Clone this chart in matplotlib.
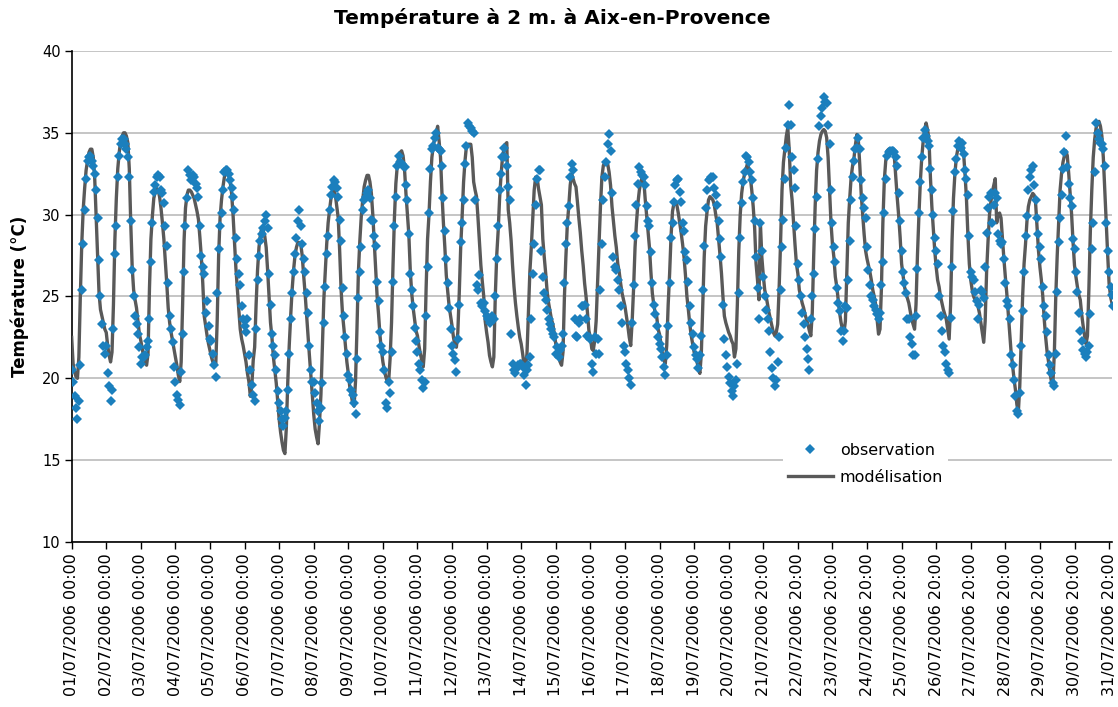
import numpy as np
import matplotlib
matplotlib.use("Agg")
import matplotlib.pyplot as plt

title = "Température à 2 m. à Aix-en-Provence"
y_label = "Température (°C)"
legend_obs = "observation"
legend_mod = "modélisation"

# tick labels (one every 24 hourly records)
x_labels = ([f"{d:02d}/07/2006 00:00" for d in range(1, 21)] +
            [f"{d:02d}/07/2006 20:00" for d in range(21, 32)])

# hourly observed temperature (°C), one row per day
obs_temp = [
    20.5, 19.8, 18.9, 18.2, 17.5, 18.6, 20.8, 25.4, 28.2, 30.3, 32.2, 33.3, 33.5, 33.6, 33.3, 33.0, 32.5, 31.5, 29.8, 27.2, 25.0, 23.3, 22.0, 21.5,
    22.0, 20.3, 19.5, 18.6, 19.3, 23.0, 27.6, 29.3, 32.3, 33.6, 34.3, 34.6, 34.6, 34.3, 34.0, 33.5, 32.3, 29.6, 26.6, 25.0, 23.8, 23.3, 22.7, 21.9,
    20.9, 21.3, 21.3, 21.4, 21.9, 22.3, 23.6, 27.1, 29.5, 31.4, 31.8, 32.3, 32.4, 32.3, 31.5, 31.3, 30.7, 29.3, 28.1, 25.8, 23.8, 23.0, 22.2, 20.7,
    19.8, 19.0, 18.7, 18.4, 20.4, 22.7, 26.5, 29.3, 31.0, 32.7, 32.4, 32.1, 32.4, 32.3, 31.9, 31.6, 31.1, 29.3, 27.5, 26.8, 26.4, 24.0, 24.7, 23.2,
    22.4, 22.3, 21.5, 20.8, 20.1, 25.2, 27.9, 29.3, 30.1, 31.5, 32.6, 32.7, 32.7, 32.5, 32.1, 31.6, 31.1, 30.3, 28.6, 27.3, 26.4, 25.7, 24.4, 23.6,
    23.2, 22.8, 23.6, 21.4, 20.5, 19.6, 19.0, 18.6, 23.0, 26.0, 27.5, 28.4, 28.8, 29.2, 29.6, 30.0, 29.2, 26.4, 24.5, 22.7, 22.0, 21.4, 20.5, 19.2,
    18.5, 18.0, 17.5, 17.1, 17.6, 18.0, 19.3, 21.5, 23.6, 25.2, 26.5, 27.6, 28.6, 29.6, 30.3, 29.3, 28.2, 27.3, 26.5, 25.2, 24.0, 22.0, 20.5, 19.8,
    19.8, 19.1, 18.5, 18.0, 17.4, 18.2, 19.7, 23.4, 25.6, 27.6, 28.7, 30.3, 31.2, 31.7, 32.1, 32.0, 31.6, 31.1, 29.7, 28.4, 25.5, 23.8, 22.5, 21.5,
    20.2, 19.9, 19.3, 19.0, 18.5, 17.8, 21.2, 24.9, 26.5, 28.0, 30.3, 30.9, 31.1, 31.3, 31.5, 31.0, 29.7, 29.6, 28.7, 28.1, 25.9, 24.7, 22.8, 22.0,
    21.6, 20.5, 18.5, 18.2, 19.8, 19.1, 21.6, 25.9, 29.3, 31.1, 33.0, 33.6, 33.2, 33.1, 33.0, 32.9, 31.8, 30.9, 28.8, 26.4, 25.4, 24.4, 23.1, 22.3,
    21.6, 20.9, 20.5, 19.9, 19.4, 19.8, 23.8, 26.8, 30.1, 32.8, 34.0, 34.2, 34.7, 35.0, 34.1, 34.0, 33.9, 33.0, 31.0, 29.0, 27.3, 25.8, 24.3, 23.0,
    22.0, 21.5, 21.1, 20.4, 22.4, 24.5, 28.3, 29.5, 30.9, 33.1, 34.2, 35.6, 35.4, 35.3, 35.1, 35.0, 30.9, 25.7, 25.4, 26.3, 24.6, 24.4, 24.6, 24.1,
    23.8, 23.6, 23.4, 23.6, 23.8, 23.6, 25.0, 27.3, 29.3, 31.5, 32.5, 33.5, 34.1, 33.5, 33.0, 31.7, 30.9, 22.7, 20.9, 20.5, 20.3, 20.6, 20.8, 20.9,
    20.9, 20.7, 20.2, 19.6, 20.5, 20.8, 21.3, 23.6, 26.4, 28.2, 30.6, 32.2, 32.7, 32.7, 27.8, 26.2, 25.2, 24.8, 24.2, 23.6, 23.3, 23.0, 22.7, 22.5,
    21.5, 21.9, 21.3, 21.7, 22.0, 22.7, 25.8, 28.2, 29.5, 30.5, 32.3, 33.1, 32.7, 23.6, 22.6, 22.5, 23.4, 23.6, 24.4, 24.4, 24.5, 23.6, 22.6, 22.5,
    22.4, 20.9, 20.4, 22.5, 21.5, 22.4, 21.5, 25.4, 28.2, 30.9, 32.3, 33.2, 34.3, 34.9, 33.9, 31.3, 27.4, 26.8, 26.6, 26.0, 25.4, 24.4, 23.4, 22.0,
    21.6, 20.9, 20.5, 20.0, 19.6, 23.4, 25.7, 28.7, 30.6, 31.9, 32.9, 32.6, 32.4, 32.3, 31.8, 30.5, 29.6, 29.3, 27.7, 25.8, 24.5, 23.9, 23.2, 22.5,
    22.1, 21.8, 21.3, 20.7, 20.2, 21.4, 23.2, 25.8, 28.6, 29.5, 30.8, 31.8, 32.1, 32.2, 31.4, 30.8, 29.5, 29.0, 27.7, 27.2, 25.9, 24.4, 23.4, 22.7,
    21.9, 21.4, 21.2, 20.6, 21.4, 22.6, 25.4, 28.1, 30.4, 31.5, 32.1, 32.2, 32.3, 32.3, 31.6, 31.2, 30.6, 29.6, 28.5, 27.4, 24.5, 22.4, 21.4, 20.7,
    20.1, 19.7, 19.2, 18.9, 19.5, 19.9, 20.9, 25.2, 28.6, 30.7, 32.0, 32.6, 33.6, 33.5, 33.2, 32.6, 32.1, 31.0, 29.6, 27.4, 25.5, 23.6, 29.5, 27.8,
    26.2, 25.0, 24.2, 23.6, 22.9, 21.6, 20.6, 20.0, 19.5, 19.9, 21.0, 22.5, 25.4, 28.0, 29.7, 32.2, 34.1, 35.5, 36.7, 35.5, 33.5, 32.7, 31.6, 29.3,
    27.0, 26.0, 25.0, 24.0, 23.3, 22.5, 21.8, 21.2, 20.5, 23.6, 25.0, 26.4, 29.1, 31.1, 33.4, 35.4, 36.0, 36.5, 37.2, 36.9, 36.8, 35.5, 34.3, 31.5,
    29.5, 28.0, 27.1, 25.5, 24.6, 24.1, 22.9, 22.3, 22.9, 24.4, 24.3, 26.0, 28.4, 30.9, 32.3, 33.3, 34.0, 34.1, 34.7, 34.0, 32.1, 31.0, 30.4, 29.8,
    28.0, 26.6, 25.7, 25.0, 24.8, 24.4, 24.2, 23.9, 23.6, 24.0, 25.7, 27.1, 30.1, 32.2, 33.6, 33.8, 33.9, 33.9, 33.9, 33.8, 33.5, 33.0, 31.3, 29.6,
    27.8, 26.5, 25.8, 25.2, 23.6, 23.6, 22.5, 22.1, 21.4, 21.4, 23.8, 26.7, 30.1, 32.0, 33.5, 34.7, 35.2, 34.8, 34.5, 34.2, 32.8, 31.5, 30.0, 28.6,
    27.8, 27.0, 25.0, 23.8, 22.9, 22.0, 21.6, 20.9, 20.5, 20.3, 23.7, 26.8, 30.2, 32.6, 33.4, 34.2, 34.5, 34.1, 34.4, 33.7, 32.7, 32.2, 31.2, 28.7,
    26.5, 26.2, 26.0, 25.3, 24.7, 23.6, 24.5, 25.4, 25.3, 24.9, 26.8, 28.9, 30.4, 31.1, 31.3, 29.5, 30.6, 31.3, 31.0, 28.8, 28.4, 28.2, 28.3, 27.3,
    25.8, 24.7, 24.4, 23.6, 21.4, 20.8, 19.9, 18.9, 18.0, 17.8, 19.1, 22.0, 24.1, 26.5, 28.7, 29.9, 31.5, 32.3, 32.7, 33.0, 31.8, 30.9, 29.8, 28.8,
    28.0, 27.3, 25.6, 24.4, 23.8, 22.8, 21.4, 20.8, 20.3, 19.7, 19.5, 21.5, 25.3, 28.3, 29.8, 31.2, 32.8, 33.8, 34.8, 32.9, 31.9, 31.0, 30.5, 28.5,
    27.9, 26.5, 25.3, 24.0, 22.9, 22.3, 21.7, 21.5, 21.3, 21.6, 22.0, 23.9, 27.9, 29.5, 32.6, 35.6, 35.0, 34.6, 34.4, 34.3, 34.0, 33.0, 29.5, 27.8,
    26.5, 25.6, 25.1, 24.4,
]

# hourly modelled temperature (°C), one row per day
model_temp = [
    22.5, 20.9, 20.4, 20.1, 20.0, 21.3, 25.0, 28.2, 30.3, 31.6, 32.7, 33.3, 33.8, 34.0, 34.0, 33.5, 32.2, 29.8, 27.5, 25.2, 24.2, 23.8, 23.4, 23.0,
    22.8, 22.0, 21.4, 21.0, 21.6, 24.5, 28.5, 31.0, 32.8, 33.8, 34.5, 34.8, 35.0, 35.0, 34.8, 34.4, 32.8, 29.5, 26.8, 25.4, 24.8, 24.3, 23.5, 22.7,
    22.3, 21.8, 21.3, 21.0, 20.8, 21.5, 25.5, 28.5, 29.9, 31.0, 31.4, 31.6, 31.5, 31.1, 30.4, 29.5, 28.5, 27.2, 25.8, 24.3, 23.4, 22.8, 22.3, 21.8,
    21.3, 20.8, 20.2, 19.8, 21.0, 24.5, 28.4, 30.4, 31.2, 31.5, 31.5, 31.4, 31.2, 31.0, 30.6, 30.2, 29.7, 28.6, 27.4, 25.8, 23.8, 23.2, 22.6, 22.1,
    21.7, 21.3, 21.0, 20.7, 20.8, 23.5, 27.5, 29.8, 30.9, 31.7, 32.3, 32.6, 32.7, 32.4, 32.0, 31.3, 30.0, 28.3, 26.7, 25.4, 24.2, 23.0, 22.4, 22.0,
    21.5, 21.0, 20.3, 19.8, 18.9, 19.5, 21.1, 21.9, 24.5, 26.6, 28.0, 28.8, 29.2, 29.0, 28.7, 28.0, 26.6, 25.0, 23.4, 22.5, 21.3, 20.5, 19.7, 18.6,
    17.5, 16.7, 16.1, 15.6, 15.4, 17.0, 19.8, 22.0, 23.8, 25.4, 26.6, 27.5, 28.0, 28.3, 28.3, 28.2, 27.5, 26.3, 25.2, 23.9, 22.6, 21.4, 20.2, 19.0,
    17.8, 16.9, 16.4, 16.0, 17.3, 19.0, 21.8, 24.8, 26.5, 28.2, 29.5, 30.3, 31.0, 31.3, 31.5, 31.2, 30.5, 29.8, 27.8, 25.4, 23.9, 23.0, 22.0, 21.0,
    20.3, 19.5, 19.0, 18.5, 18.3, 19.8, 23.0, 26.5, 28.4, 29.9, 30.9, 31.7, 32.1, 32.4, 32.4, 32.0, 31.3, 30.0, 28.3, 26.6, 25.0, 23.9, 22.6, 21.7,
    21.0, 20.5, 20.1, 19.8, 19.8, 21.2, 23.4, 26.8, 29.8, 31.9, 33.0, 33.5, 33.8, 33.9, 33.6, 32.8, 31.3, 30.0, 28.8, 26.6, 25.2, 24.3, 23.6, 22.9,
    22.6, 22.0, 21.5, 21.1, 20.7, 21.8, 25.5, 28.5, 30.0, 32.0, 33.5, 34.2, 34.7, 35.0, 35.4, 34.5, 33.5, 31.3, 29.5, 28.0, 26.3, 25.3, 24.4, 23.8,
    23.2, 22.5, 22.0, 21.9, 22.8, 25.2, 28.0, 29.9, 32.0, 33.3, 34.2, 34.3, 34.3, 34.3, 33.5, 32.0, 31.5, 31.1, 29.8, 28.3, 26.9, 25.9, 25.0, 23.5,
    22.8, 22.2, 21.4, 21.0, 20.7, 21.3, 25.0, 27.5, 29.0, 31.0, 32.4, 33.5, 34.0, 34.3, 34.4, 30.3, 29.5, 28.4, 26.9, 25.6, 24.6, 23.8, 23.1, 22.5,
    22.1, 21.5, 20.8, 20.7, 21.5, 24.0, 26.5, 28.0, 29.8, 31.5, 32.3, 32.3, 31.6, 31.1, 30.6, 28.5, 27.4, 26.4, 25.3, 24.6, 24.1, 23.6, 23.3, 22.7,
    22.1, 21.7, 21.3, 21.0, 20.8, 21.6, 25.0, 27.4, 29.4, 30.5, 31.8, 32.5, 32.2, 31.9, 31.7, 30.8, 29.8, 28.9, 27.8, 26.9, 25.8, 25.0, 24.0, 22.9,
    22.5, 21.8, 21.7, 22.3, 23.5, 25.8, 28.0, 30.5, 32.3, 33.0, 33.2, 33.2, 33.1, 32.6, 31.8, 30.5, 29.6, 28.7, 28.0, 27.0, 26.5, 25.8, 25.2, 24.8,
    24.4, 23.8, 23.2, 22.5, 22.0, 23.5, 25.5, 28.0, 29.5, 30.7, 31.5, 32.0, 32.3, 32.2, 31.0, 30.0, 29.0, 28.0, 26.5, 25.2, 24.5, 24.0, 23.8, 23.0,
    22.7, 22.1, 21.5, 21.1, 20.9, 22.0, 24.5, 26.4, 28.7, 30.2, 30.7, 30.8, 30.6, 30.1, 29.5, 28.9, 28.2, 27.4, 26.3, 25.0, 24.2, 23.3, 22.6, 22.1,
    21.6, 21.4, 21.0, 20.6, 20.3, 21.5, 24.5, 27.4, 29.3, 30.2, 30.9, 31.1, 31.0, 30.9, 30.6, 30.0, 29.5, 28.5, 27.5, 26.4, 25.0, 23.8, 23.4, 23.1,
    22.8, 22.6, 22.3, 22.1, 21.3, 21.8, 24.5, 27.8, 30.0, 31.3, 32.0, 32.5, 32.8, 33.1, 32.8, 32.3, 31.5, 30.5, 29.2, 27.0, 26.0, 24.8, 29.5, 27.4,
    26.3, 25.4, 25.0, 24.5, 24.0, 23.6, 23.2, 22.8, 22.6, 22.8, 23.3, 25.5, 28.3, 31.5, 33.2, 34.0, 34.8, 35.3, 34.0, 31.8, 30.9, 29.5, 28.2, 27.0,
    26.4, 25.4, 25.0, 24.6, 24.3, 23.9, 23.6, 23.3, 22.9, 22.6, 24.0, 27.5, 30.5, 32.7, 33.8, 34.5, 34.9, 35.1, 35.2, 35.1, 34.7, 33.5, 31.5, 29.5,
    28.2, 27.4, 26.2, 25.6, 24.8, 24.0, 23.4, 23.0, 22.8, 23.5, 26.5, 29.5, 31.0, 32.3, 33.0, 33.5, 34.3, 34.9, 34.5, 33.0, 31.2, 30.0, 28.8, 27.8,
    27.3, 26.9, 26.5, 26.0, 25.4, 25.0, 24.5, 23.6, 22.7, 23.0, 25.5, 29.5, 32.1, 33.3, 33.9, 34.0, 34.0, 34.0, 34.0, 33.5, 32.2, 31.0, 29.9, 28.6,
    27.0, 26.3, 25.6, 25.2, 24.9, 24.6, 24.1, 23.6, 23.3, 23.0, 24.5, 27.5, 29.9, 32.0, 33.5, 34.5, 35.2, 35.6, 35.2, 34.6, 32.3, 30.5, 29.1, 27.8,
    26.8, 26.0, 25.6, 25.0, 24.6, 24.2, 23.9, 23.6, 23.0, 22.4, 24.5, 28.4, 31.0, 32.5, 33.5, 34.0, 34.3, 34.4, 34.5, 33.8, 32.5, 31.0, 28.8, 27.0,
    26.0, 25.4, 25.0, 24.8, 24.6, 24.4, 24.0, 23.4, 22.8, 22.2, 23.5, 26.5, 28.4, 30.0, 30.8, 31.4, 31.8, 32.2, 29.5, 30.0, 30.1, 29.8, 28.5, 27.3,
    26.2, 25.2, 24.0, 22.8, 21.6, 20.8, 20.0, 19.3, 18.4, 17.9, 19.5, 22.3, 25.0, 27.0, 28.2, 29.6, 30.5, 30.9, 31.1, 31.3, 31.2, 30.7, 29.3, 27.8,
    26.8, 26.0, 25.0, 23.6, 22.5, 21.6, 21.0, 20.3, 19.8, 19.7, 21.5, 25.0, 27.5, 29.5, 31.5, 32.5, 33.2, 33.6, 33.9, 33.6, 32.5, 31.2, 30.0, 28.3,
    26.9, 26.2, 25.6, 25.1, 24.8, 23.9, 23.2, 22.6, 22.1, 22.6, 25.5, 29.0, 31.5, 33.5, 34.6, 35.3, 35.6, 35.7, 35.4, 34.8, 33.5, 31.5, 29.5, 27.6,
    25.8, 25.0, 24.6, 24.3,
]

OBS_COLOR = "#1b7fbd"
MOD_COLOR = "#595959"
GRID_COLOR = "#c0c0c0"

fig = plt.figure(figsize=(11.18, 7.07), dpi=100)
ax = fig.add_axes([0.0641, 0.2334, 0.9305, 0.6945])

hours = np.arange(len(obs_temp))
hours_m = np.arange(len(model_temp))

ax.plot(hours_m, model_temp, color=MOD_COLOR, lw=2.4, zorder=3,
        solid_joinstyle="round", label=legend_mod)
ax.plot(hours, obs_temp, linestyle="none", marker="D", ms=5.6,
        color=OBS_COLOR, markeredgewidth=0, zorder=4, label=legend_obs)

ax.set_ylim(10, 40)
ax.set_xlim(0, 722)
ax.set_yticks(np.arange(10, 41, 5))
ax.yaxis.grid(True, color=GRID_COLOR, lw=1.3)
ax.set_axisbelow(True)

tick_pos = np.arange(len(x_labels)) * 24
ax.set_xticks(tick_pos)
ax.set_xticklabels(x_labels, rotation=90, fontsize=11.5)
ax.tick_params(axis="x", direction="out", length=5, width=1, pad=3)
ax.tick_params(axis="y", direction="out", length=5, width=1, labelsize=10.5, pad=3)

for s in ("top", "right"):
    ax.spines[s].set_visible(False)
for s in ("left", "bottom"):
    ax.spines[s].set_color("black")
    ax.spines[s].set_linewidth(1.2)

ax.set_ylabel(y_label, fontsize=12, fontweight="bold", labelpad=9)
fig.text(0.494, 0.974, title, ha="center", va="center",
         fontsize=14.5, fontweight="bold")

h, l = ax.get_legend_handles_labels()
leg = ax.legend([h[1], h[0]], [l[1], l[0]], loc="upper left",
                bbox_to_anchor=(0.684, 0.212), frameon=True,
                facecolor="white", edgecolor="none", framealpha=1,
                fontsize=11.5, handlelength=2.8, handletextpad=0.45,
                borderpad=0.3, labelspacing=0.75, borderaxespad=0)
leg.get_frame().set_boxstyle("square", pad=0)
leg.set_zorder(5)

fig.savefig("out.png", dpi=100)
